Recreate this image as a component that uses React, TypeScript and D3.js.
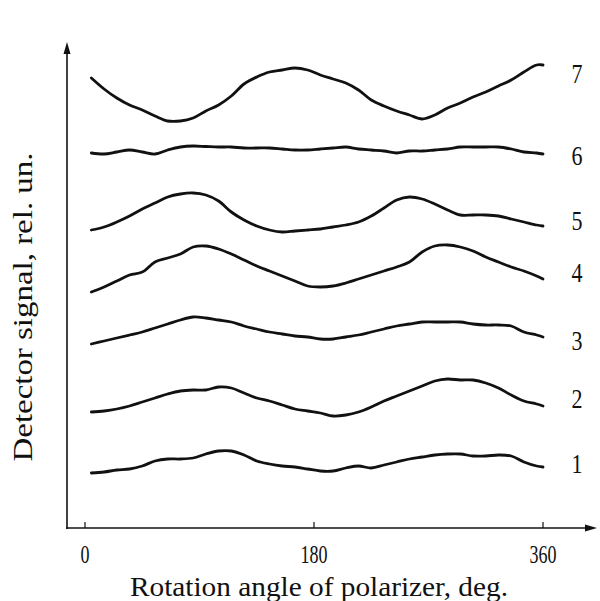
import { useEffect, useRef } from 'react'
import * as d3 from 'd3'

// polarizer angle, deg (shared by every trace)
const angles = [5, 15, 25, 35, 45, 55, 65, 75, 85, 95, 105, 115, 125, 135, 145, 155, 165, 175, 185,
  195, 205, 215, 225, 235, 245, 255, 265, 275, 285, 295, 305, 315, 325, 335, 345, 355, 360]

// detector signal, rel. un.
const trace1 = [55, 56, 58, 59, 62, 67, 69, 69, 70, 74, 77, 77, 73, 67, 64, 62, 61, 59, 57, 57, 60,
  62, 60, 63, 66, 69, 71, 73, 74, 74, 72, 72, 73, 72, 66, 62, 61]
const trace2 = [116, 117, 119, 122, 126, 130, 134, 137, 138, 138, 141, 140, 135, 130, 127, 123, 119,
  117, 115, 112, 113, 116, 121, 127, 132, 137, 142, 147, 149, 148, 148, 145, 140, 133, 127, 124, 122]
const trace3 = [184, 187, 190, 193, 196, 200, 204, 208, 211, 210, 208, 206, 202, 199, 196, 194, 192,
  191, 189, 189, 191, 193, 196, 199, 202, 204, 206, 206, 206, 206, 204, 203, 203, 202, 196, 193, 191]
const trace4 = [236, 241, 247, 253, 256, 266, 270, 274, 281, 282, 279, 274, 268, 262, 257, 252, 247,
  242, 241, 242, 245, 249, 253, 257, 261, 266, 276, 282, 283, 281, 277, 271, 266, 261, 257, 252, 249]
const trace5 = [298, 301, 306, 312, 319, 325, 331, 334, 335, 333, 327, 316, 308, 302, 298, 296, 297,
  298, 299, 301, 303, 306, 312, 320, 328, 331, 329, 324, 318, 313, 313, 313, 312, 309, 306, 303, 302]
const trace6 = [375, 374, 376, 378, 376, 374, 378, 381, 382, 381.5, 381, 381, 380, 380, 380, 379, 378,
  378, 379, 380, 381, 379, 378, 377, 375, 377, 377, 378, 379, 381, 381, 381, 381, 379, 376, 375, 374]
const trace7 = [450, 439, 430, 423, 418, 412, 407, 407, 410, 417, 423, 432, 444, 451, 456, 458, 460,
  458, 453, 449, 445, 438, 428, 422, 417, 413, 409, 413, 420, 425, 431, 436, 442, 448, 456, 463, 463]

const traces = [trace1, trace2, trace3, trace4, trace5, trace6, trace7]
const traceNames = ['1', '2', '3', '4', '5', '6', '7']
// signal level at which each trace number is written
const labelLevels = [64, 129, 187, 255, 307, 372, 454]

const xTicks = [0, 180, 360]

export default function App() {
  const svgRef = useRef<SVGSVGElement>(null)
  const width = 600
  const height = 601

  useEffect(() => {
    if (!svgRef.current) return
    const svg = d3.select(svgRef.current)
    svg.selectAll('*').remove()

    const axisX = 67
    const axisY = 528
    const font = '"Liberation Serif", "Times New Roman", serif'

    const x = d3.scaleLinear().domain([0, 360]).range([85, 543])
    const y = d3.scaleLinear().domain([0, 480]).range([axisY, 48])

    // axes with arrow heads
    svg.append('line')
      .attr('x1', axisX).attr('x2', axisX)
      .attr('y1', axisY + 1).attr('y2', 52)
      .attr('stroke', '#111').attr('stroke-width', 1.6)
    svg.append('path')
      .attr('d', `M${axisX},42 L${axisX - 3.5},54 L${axisX + 3.5},54 Z`)
      .attr('fill', '#111')

    svg.append('line')
      .attr('x1', axisX - 1).attr('x2', 588)
      .attr('y1', axisY).attr('y2', axisY)
      .attr('stroke', '#111').attr('stroke-width', 1.6)
    svg.append('path')
      .attr('d', `M597,${axisY} L585,${axisY - 3.5} L585,${axisY + 3.5} Z`)
      .attr('fill', '#111')

    xTicks.forEach(t => {
      const label = String(t)
      svg.append('line')
        .attr('x1', x(t)).attr('x2', x(t))
        .attr('y1', axisY).attr('y2', axisY - 6)
        .attr('stroke', '#111').attr('stroke-width', 1.2)
      svg.append('text')
        .attr('x', x(t)).attr('y', axisY + 35)
        .attr('text-anchor', 'middle')
        .attr('font-family', font).attr('font-size', 26)
        .attr('textLength', label.length * 9)
        .attr('lengthAdjust', 'spacingAndGlyphs')
        .attr('fill', '#111')
        .text(label)
    })

    // traces
    const line = d3.line<number>()
      .x((_, i) => x(angles[i]))
      .y(d => y(d))
      .curve(d3.curveCatmullRom.alpha(0.5))

    traces.forEach((tr, k) => {
      svg.append('path')
        .datum(tr)
        .attr('fill', 'none')
        .attr('stroke', '#111')
        .attr('stroke-width', 2.8)
        .attr('stroke-linejoin', 'round')
        .attr('stroke-linecap', 'round')
        .attr('d', line)

      svg.append('text')
        .attr('x', 577).attr('y', y(labelLevels[k]))
        .attr('dy', '0.33em')
        .attr('text-anchor', 'middle')
        .attr('font-family', font).attr('font-size', 27)
        .attr('textLength', 11)
        .attr('lengthAdjust', 'spacingAndGlyphs')
        .attr('fill', '#111')
        .text(traceNames[k])
    })

    // titles
    svg.append('text')
      .attr('x', 319).attr('y', 596)
      .attr('text-anchor', 'middle')
      .attr('font-family', font).attr('font-size', 28)
      .attr('textLength', 378)
      .attr('lengthAdjust', 'spacingAndGlyphs')
      .attr('fill', '#111')
      .text('Rotation angle of polarizer, deg.')

    svg.append('text')
      .attr('transform', `translate(32,${307}) rotate(-90)`)
      .attr('text-anchor', 'middle')
      .attr('font-family', font).attr('font-size', 27)
      .attr('textLength', 309)
      .attr('lengthAdjust', 'spacingAndGlyphs')
      .attr('fill', '#111')
      .text('Detector signal, rel. un.')
  }, [])

  return (
    <svg
      ref={svgRef}
      width={width}
      height={height}
      style={{ position: 'absolute', left: 0, top: 0, background: '#fff' }}
    />
  )
}
